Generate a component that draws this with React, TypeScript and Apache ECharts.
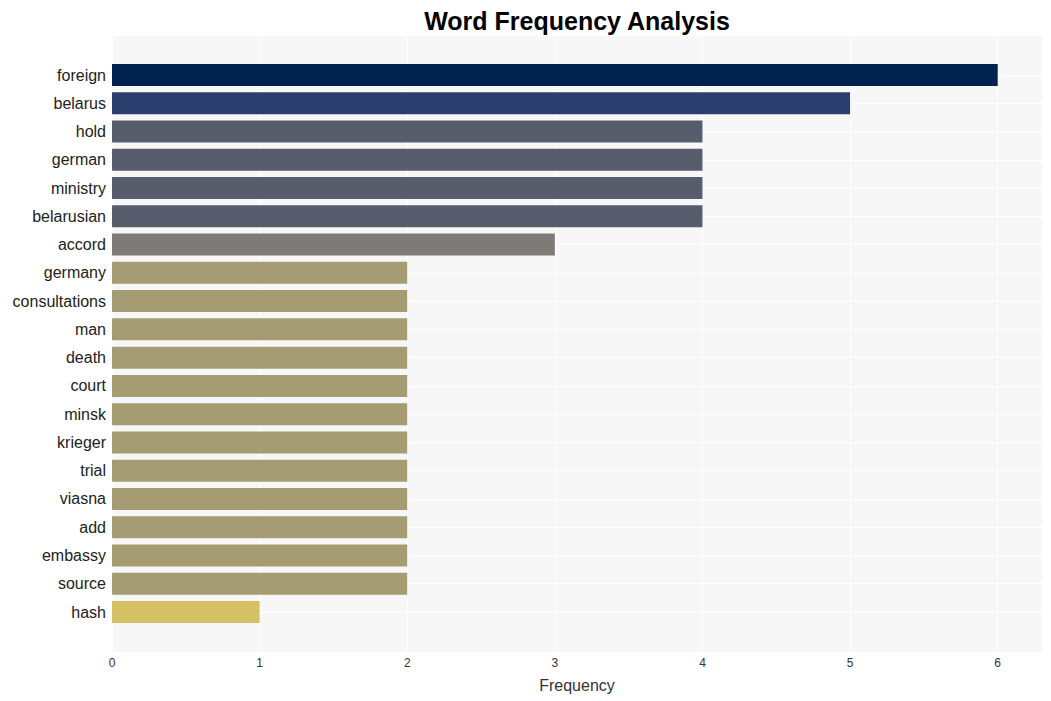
import React, { useEffect, useRef } from "react";
import * as echarts from "echarts";

const words = [
  "foreign", "belarus", "hold", "german", "ministry", "belarusian", "accord",
  "germany", "consultations", "man", "death", "court", "minsk", "krieger",
  "trial", "viasna", "add", "embassy", "source", "hash",
];
const counts = [6, 5, 4, 4, 4, 4, 3, 2, 2, 2, 2, 2, 2, 2, 2, 2, 2, 2, 2, 1];
const barColors = [
  "#00224f", "#2c3e6e", "#575d6d", "#575d6d", "#575d6d", "#575d6d", "#7c7b78",
  "#a59c74", "#a59c74", "#a59c74", "#a59c74", "#a59c74", "#a59c74", "#a59c74",
  "#a59c74", "#a59c74", "#a59c74", "#a59c74", "#a59c74", "#d3c164",
];
const xTicksMax = 6.3;
const titleText = "Word Frequency Analysis";
const xName = "Frequency";

export default function App() {
  const ref = useRef<HTMLDivElement>(null);
  useEffect(() => {
    if (!ref.current) return;
    const chart = echarts.init(ref.current, null, { renderer: "svg" });
    const font = "'Liberation Sans', Arial, Helvetica, sans-serif";
    chart.setOption({
      animation: false,
      backgroundColor: "#ffffff",
      textStyle: { fontFamily: font },
      title: {
        text: titleText,
        left: 572,
        top: 3,
        textAlign: "center",
        textStyle: { fontSize: 25, fontWeight: "bold", color: "#000", fontFamily: font },
      },
      grid: [
        { left: 112, right: 9, top: 36, bottom: 49, show: true, backgroundColor: "#f7f7f7", borderWidth: 0 },
        { left: 112, right: 9, top: 75, bottom: 89, show: false },
      ],
      xAxis: [
        {
          type: "value", gridIndex: 0, min: 0, max: xTicksMax, interval: 1,
          axisLine: { show: false }, axisTick: { show: false },
          axisLabel: {
            color: "#333", fontSize: 12, margin: 5, fontFamily: font,
            formatter: (v: number) => (Number.isInteger(v) ? String(v) : ""),
          },
          splitLine: { show: true, lineStyle: { color: "#ffffff", width: 1 } },
          name: xName, nameLocation: "middle", nameGap: 25,
          nameTextStyle: { fontSize: 16, color: "#333", fontFamily: font },
        },
        {
          type: "value", gridIndex: 1, min: 0, max: xTicksMax, interval: 1,
          show: false, splitLine: { show: false },
        },
      ],
      yAxis: [
        { type: "value", gridIndex: 0, show: false, splitLine: { show: false } },
        {
          type: "category", gridIndex: 1, data: words, inverse: true, boundaryGap: false,
          axisLine: { show: false }, axisTick: { show: false },
          axisLabel: { color: "#222", fontSize: 16, margin: 6, fontFamily: font },
          splitLine: { show: true, lineStyle: { color: "#ffffff", width: 1 } },
        },
      ],
      series: [
        {
          type: "bar",
          xAxisIndex: 1,
          yAxisIndex: 1,
          barWidth: 22,
          data: counts.map((v, i) => ({ value: v, itemStyle: { color: barColors[i] } })),
        },
      ],
    });
    return () => chart.dispose();
  }, []);
  return (
    <div
      ref={ref}
      style={{ position: "fixed", left: 0, top: 0, width: 1051, height: 701 }}
    />
  );
}
